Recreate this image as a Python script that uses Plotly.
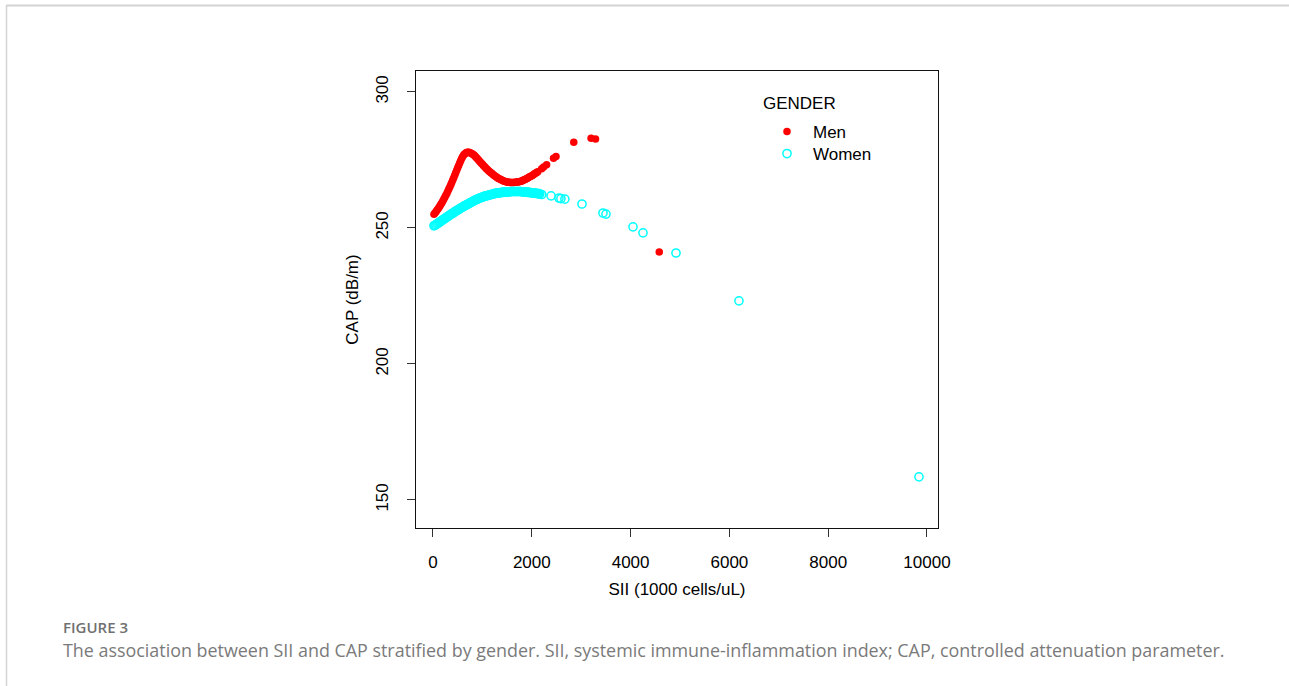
import plotly.graph_objects as go

# ---- data ----
men_sii = [20, 40, 60, 80, 100, 120, 140, 160, 180, 200, 220, 240, 260, 280, 300, 320,
           340, 360, 380, 400, 420, 440, 460, 480, 500, 520, 540, 560, 580, 600, 620,
           640, 660, 680, 700, 720, 740, 760, 780, 800, 820, 840, 860, 880, 900, 920,
           940, 960, 980, 1000, 1020, 1040, 1060, 1080, 1100, 1120, 1140, 1160, 1180,
           1200, 1220, 1240, 1260, 1280, 1300, 1320, 1340, 1360, 1380, 1400, 1420,
           1440, 1460, 1480, 1500, 1520, 1540, 1560, 1580, 1600, 1620, 1640, 1660,
           1680, 1700, 1720, 1740, 1760, 1780, 1800, 1820, 1840, 1860, 1880, 1900,
           1920, 1940, 1960, 1980, 2000, 2020, 2040, 2060, 2080, 2100, 2120,
           2200, 2240, 2300, 2440, 2490, 2850, 3200, 3290, 4580]
men_cap = [255.0, 255.5, 256.0, 256.5, 257.0, 257.5, 258.1, 258.7, 259.3, 259.9, 260.6,
           261.3, 262.0, 262.7, 263.5, 264.3, 265.1, 265.9, 266.7, 267.6, 268.5, 269.4,
           270.3, 271.2, 272.1, 273.0, 273.9, 274.7, 275.5, 276.2, 276.8, 277.2, 277.5,
           277.7, 277.8, 277.8, 277.7, 277.6, 277.4, 277.2, 276.9, 276.6, 276.2, 275.8,
           275.4, 275.0, 274.6, 274.2, 273.8, 273.4, 273.0, 272.6, 272.2, 271.8, 271.5,
           271.1, 270.8, 270.5, 270.2, 269.9, 269.6, 269.3, 269.0, 268.8, 268.5, 268.3,
           268.1, 267.9, 267.7, 267.5, 267.4, 267.2, 267.1, 267.0, 266.9, 266.8, 266.8,
           266.7, 266.7, 266.7, 266.7, 266.7, 266.8, 266.8, 266.9, 266.9, 267.0, 267.1,
           267.2, 267.3, 267.5, 267.6, 267.8, 268.0, 268.2, 268.4, 268.6, 268.8, 269.0,
           269.2, 269.4, 269.7, 269.9, 270.2, 270.4, 270.7,
           271.8, 272.4, 273.2, 275.6, 276.3, 281.5, 283.0, 282.7, 241.2]

women_sii = [20, 40, 60, 80, 100, 120, 140, 160, 180, 200, 220, 240, 260, 280, 300, 320,
             340, 360, 380, 400, 420, 440, 460, 480, 500, 520, 540, 560, 580, 600, 620,
             640, 660, 680, 700, 720, 740, 760, 780, 800, 820, 840, 860, 880, 900, 920,
             940, 960, 980, 1000, 1020, 1040, 1060, 1080, 1100, 1120, 1140, 1160, 1180,
             1200, 1220, 1240, 1260, 1280, 1300, 1320, 1340, 1360, 1380, 1400, 1420,
             1440, 1460, 1480, 1500, 1520, 1540, 1560, 1580, 1600, 1620, 1640, 1660,
             1680, 1700, 1720, 1740, 1760, 1780, 1800, 1820, 1840, 1860, 1880, 1900,
             1920, 1940, 1960, 1980, 2000, 2020, 2040, 2060, 2080, 2100, 2120, 2140,
             2160, 2200, 2390, 2550, 2590, 2670, 3016, 3441, 3502, 4049, 4251, 4919,
             6194, 9838]
women_cap = [250.8, 251.0, 251.2, 251.5, 251.7, 252.0, 252.2, 252.5, 252.7, 253.0, 253.2,
             253.5, 253.7, 254.0, 254.2, 254.5, 254.7, 255.0, 255.2, 255.4, 255.7, 255.9,
             256.1, 256.4, 256.6, 256.8, 257.0, 257.3, 257.5, 257.7, 257.9, 258.1, 258.3,
             258.5, 258.7, 258.9, 259.1, 259.3, 259.5, 259.7, 259.9, 260.1, 260.3, 260.4,
             260.6, 260.8, 260.9, 261.1, 261.2, 261.3, 261.5, 261.6, 261.7, 261.8, 261.9,
             262.0, 262.1, 262.2, 262.3, 262.4, 262.5, 262.6, 262.7, 262.7, 262.8, 262.9,
             262.9, 263.0, 263.0, 263.1, 263.1, 263.2, 263.2, 263.2, 263.3, 263.3, 263.3,
             263.3, 263.4, 263.4, 263.4, 263.4, 263.4, 263.4, 263.4, 263.4, 263.4, 263.4,
             263.4, 263.3, 263.3, 263.3, 263.3, 263.2, 263.2, 263.1, 263.1, 263.0, 263.0,
             262.9, 262.9, 262.8, 262.8, 262.7, 262.7, 262.6, 262.6, 262.5,
             262.3, 261.8, 261.0, 260.8, 260.6, 258.8, 255.5, 255.1, 250.4, 248.2, 240.8,
             223.2, 158.5]

x_ticks = [0, 2000, 4000, 6000, 8000, 10000]
y_ticks = [150, 200, 250, 300]

# ---- layout geometry (pixels) ----
W, H = 1289, 686
L, R, T, B = 416, 938, 71, 528


def px(xp):
    return (xp - L) / (R - L)


def py(yp):
    return (B - yp) / (B - T)


fig = go.Figure()
fig.add_trace(go.Scatter(
    x=men_sii, y=men_cap, mode="markers", name="Men", legend="legend",
    marker=dict(symbol="circle", color="#FF0000", size=7.5, line=dict(width=0)),
))
fig.add_trace(go.Scatter(
    x=women_sii, y=women_cap, mode="markers", name="Women", legend="legend2",
    marker=dict(symbol="circle-open", color="#00FFFF", size=8.2, line=dict(width=1.5)),
))

font_main = "Liberation Sans, Arial, sans-serif"

fig.update_layout(
    width=W, height=H,
    margin=dict(l=L, r=W - R, t=T, b=H - B, pad=0),
    paper_bgcolor="white", plot_bgcolor="white",
    font=dict(family=font_main, size=17, color="black"),
    showlegend=True,
    legend=dict(
        x=px(761), y=py(132), xanchor="left", yanchor="middle",
        bgcolor="rgba(0,0,0,0)", itemwidth=42, font=dict(size=17),
    ),
    legend2=dict(
        x=px(761), y=py(154), xanchor="left", yanchor="middle",
        bgcolor="rgba(0,0,0,0)", itemwidth=42, font=dict(size=17),
    ),
    xaxis=dict(
        range=[-344, 10223], tickvals=x_ticks, ticktext=[str(v) for v in x_ticks],
        ticks="outside", ticklen=8, tickcolor="#333", tickwidth=1,
        ticklabelstandoff=10,
        showline=True, linecolor="#111", linewidth=1.2, mirror=True,
        showgrid=False, zeroline=False,
        title=dict(text="SII (1000 cells/uL)", standoff=12, font=dict(size=17)),
        tickfont=dict(size=17),
    ),
    yaxis=dict(
        range=[139.7, 307.7], tickvals=y_ticks, ticktext=[str(v) for v in y_ticks],
        ticks="outside", ticklen=8, tickcolor="#333", tickwidth=1,
        ticklabelstandoff=12,
        showline=True, linecolor="#111", linewidth=1.2, mirror=True,
        showgrid=False, zeroline=False, tickangle=-90,
        title=dict(text="CAP (dB/m)", standoff=10, font=dict(size=17)),
        tickfont=dict(size=17),
    ),
)

# legend title
fig.add_annotation(text="GENDER", xref="paper", yref="paper",
                   x=px(761), y=py(103), xanchor="left", yanchor="middle",
                   showarrow=False, font=dict(family=font_main, size=17, color="black"))

# card border (top and left edges)
fig.add_shape(type="line", xref="paper", yref="paper",
              x0=px(6), x1=px(W + 5), y0=py(5.5), y1=py(5.5),
              line=dict(color="#d3d3d3", width=2))
fig.add_shape(type="line", xref="paper", yref="paper",
              x0=px(6.5), x1=px(6.5), y0=py(5.5), y1=py(H + 5),
              line=dict(color="#d3d3d3", width=1.5))

# caption
fig.add_annotation(text="FIGURE 3", xref="paper", yref="paper",
                   x=px(61), y=py(627), xanchor="left", yanchor="middle",
                   showarrow=False,
                   font=dict(family="Open Sans, sans-serif", size=15, weight=600,
                             color="#707070"))
fig.add_annotation(text="The association between SII and CAP stratified by gender. SII, systemic "
                        "immune-inflammation index; CAP, controlled attenuation parameter.",
                   xref="paper", yref="paper",
                   x=px(61), y=py(650), xanchor="left", yanchor="middle",
                   showarrow=False,
                   font=dict(family="Open Sans, sans-serif", size=17.9, color="#7a7a7a"))

fig.write_html("out.html", config={"displayModeBar": False},
               post_script="document.body.style.margin='0';")
